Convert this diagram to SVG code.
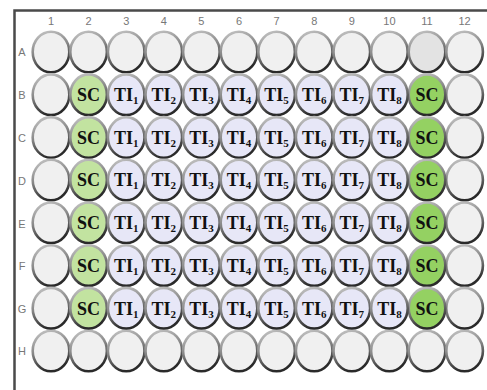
<svg xmlns="http://www.w3.org/2000/svg" width="487" height="390" viewBox="0 0 487 390">
<defs>
<linearGradient id="rim" x1="0" y1="0" x2="0.3" y2="1">
<stop offset="0" stop-color="#c8c8c8"/>
<stop offset="0.5" stop-color="#8a8a8a"/>
<stop offset="1" stop-color="#2a2a2a"/>
</linearGradient>
<ellipse id="w" cx="0" cy="0" rx="18.3" ry="20.3"/>
</defs>
<style>
.e{fill:#f0f0f0}
.t{fill:#e7e7f7}
.s1{fill:#c2e3a0}
.s2{fill:#94d162}
.g{fill:#e3e3e3}
.well use{stroke:url(#rim);stroke-width:2.6}
.hi{fill:none;stroke:#ffffff;stroke-width:1;opacity:0.8}
.lab{font-family:"Liberation Serif",serif;font-weight:bold;font-size:18px;fill:#111;text-anchor:middle}
.sub{font-size:11px}
.num{font-family:"Liberation Sans",sans-serif;font-size:11px;fill:#777;text-anchor:middle}
</style>
<rect width="487" height="390" fill="#ffffff"/>
<g id="frame" fill="none" stroke="#4a4a4a" stroke-width="2.5">
<path d="M14.5 390 V10.5 H487"/>
</g>
<g id="colnums" class="num">
<text x="51" y="25">1</text><text x="88.6" y="25">2</text><text x="126.2" y="25">3</text><text x="163.8" y="25">4</text><text x="201.4" y="25">5</text><text x="239" y="25">6</text><text x="276.6" y="25">7</text><text x="314.2" y="25">8</text><text x="351.8" y="25">9</text><text x="389.4" y="25">10</text><text x="427" y="25">11</text><text x="464.6" y="25">12</text>
</g>
<g id="rownums" class="num">
<text x="22" y="56">A</text><text x="22" y="99">B</text><text x="22" y="142">C</text><text x="22" y="185">D</text><text x="22" y="228">E</text><text x="22" y="270">F</text><text x="22" y="313">G</text><text x="22" y="355">H</text>
</g>
<g id="connectors"/>
<g id="wells" class="well">
<!-- Row A -->
<g id="rowA">
<use href="#w" class="e" x="51" y="52"/><use href="#w" class="e" x="88.6" y="52"/><use href="#w" class="e" x="126.2" y="52"/><use href="#w" class="e" x="163.8" y="52"/><use href="#w" class="e" x="201.4" y="52"/><use href="#w" class="e" x="239" y="52"/><use href="#w" class="e" x="276.6" y="52"/><use href="#w" class="e" x="314.2" y="52"/><use href="#w" class="e" x="351.8" y="52"/><use href="#w" class="e" x="389.4" y="52"/><use href="#w" class="g" x="427" y="52"/><use href="#w" class="e" x="464.6" y="52"/>
</g>
<g id="rowH">
<use href="#w" class="e" x="51" y="351"/><use href="#w" class="e" x="88.6" y="351"/><use href="#w" class="e" x="126.2" y="351"/><use href="#w" class="e" x="163.8" y="351"/><use href="#w" class="e" x="201.4" y="351"/><use href="#w" class="e" x="239" y="351"/><use href="#w" class="e" x="276.6" y="351"/><use href="#w" class="e" x="314.2" y="351"/><use href="#w" class="e" x="351.8" y="351"/><use href="#w" class="e" x="389.4" y="351"/><use href="#w" class="e" x="427" y="351"/><use href="#w" class="e" x="464.6" y="351"/>
</g>
<g id="col1">
<use href="#w" class="e" x="51" y="94.7"/><use href="#w" class="e" x="51" y="137.4"/><use href="#w" class="e" x="51" y="180.1"/><use href="#w" class="e" x="51" y="222.8"/><use href="#w" class="e" x="51" y="265.5"/><use href="#w" class="e" x="51" y="308.2"/>
</g>
<g id="col12">
<use href="#w" class="e" x="464.6" y="94.7"/><use href="#w" class="e" x="464.6" y="137.4"/><use href="#w" class="e" x="464.6" y="180.1"/><use href="#w" class="e" x="464.6" y="222.8"/><use href="#w" class="e" x="464.6" y="265.5"/><use href="#w" class="e" x="464.6" y="308.2"/>
</g>
<g id="col2">
<use href="#w" class="s1" x="88.6" y="94.7"/><use href="#w" class="s1" x="88.6" y="137.4"/><use href="#w" class="s1" x="88.6" y="180.1"/><use href="#w" class="s1" x="88.6" y="222.8"/><use href="#w" class="s1" x="88.6" y="265.5"/><use href="#w" class="s1" x="88.6" y="308.2"/>
</g>
<g id="col11">
<use href="#w" class="s2" x="427" y="94.7"/><use href="#w" class="s2" x="427" y="137.4"/><use href="#w" class="s2" x="427" y="180.1"/><use href="#w" class="s2" x="427" y="222.8"/><use href="#w" class="s2" x="427" y="265.5"/><use href="#w" class="s2" x="427" y="308.2"/>
</g>
<g id="ti">
<use href="#w" class="t" x="126.2" y="94.7"/><use href="#w" class="t" x="163.8" y="94.7"/><use href="#w" class="t" x="201.4" y="94.7"/><use href="#w" class="t" x="239" y="94.7"/><use href="#w" class="t" x="276.6" y="94.7"/><use href="#w" class="t" x="314.2" y="94.7"/><use href="#w" class="t" x="351.8" y="94.7"/><use href="#w" class="t" x="389.4" y="94.7"/>
<use href="#w" class="t" x="126.2" y="137.4"/><use href="#w" class="t" x="163.8" y="137.4"/><use href="#w" class="t" x="201.4" y="137.4"/><use href="#w" class="t" x="239" y="137.4"/><use href="#w" class="t" x="276.6" y="137.4"/><use href="#w" class="t" x="314.2" y="137.4"/><use href="#w" class="t" x="351.8" y="137.4"/><use href="#w" class="t" x="389.4" y="137.4"/>
<use href="#w" class="t" x="126.2" y="180.1"/><use href="#w" class="t" x="163.8" y="180.1"/><use href="#w" class="t" x="201.4" y="180.1"/><use href="#w" class="t" x="239" y="180.1"/><use href="#w" class="t" x="276.6" y="180.1"/><use href="#w" class="t" x="314.2" y="180.1"/><use href="#w" class="t" x="351.8" y="180.1"/><use href="#w" class="t" x="389.4" y="180.1"/>
<use href="#w" class="t" x="126.2" y="222.8"/><use href="#w" class="t" x="163.8" y="222.8"/><use href="#w" class="t" x="201.4" y="222.8"/><use href="#w" class="t" x="239" y="222.8"/><use href="#w" class="t" x="276.6" y="222.8"/><use href="#w" class="t" x="314.2" y="222.8"/><use href="#w" class="t" x="351.8" y="222.8"/><use href="#w" class="t" x="389.4" y="222.8"/>
<use href="#w" class="t" x="126.2" y="265.5"/><use href="#w" class="t" x="163.8" y="265.5"/><use href="#w" class="t" x="201.4" y="265.5"/><use href="#w" class="t" x="239" y="265.5"/><use href="#w" class="t" x="276.6" y="265.5"/><use href="#w" class="t" x="314.2" y="265.5"/><use href="#w" class="t" x="351.8" y="265.5"/><use href="#w" class="t" x="389.4" y="265.5"/>
<use href="#w" class="t" x="126.2" y="308.2"/><use href="#w" class="t" x="163.8" y="308.2"/><use href="#w" class="t" x="201.4" y="308.2"/><use href="#w" class="t" x="239" y="308.2"/><use href="#w" class="t" x="276.6" y="308.2"/><use href="#w" class="t" x="314.2" y="308.2"/><use href="#w" class="t" x="351.8" y="308.2"/><use href="#w" class="t" x="389.4" y="308.2"/>
</g>
</g>
<g id="labels" class="lab">
<g id="sc">
<text x="88.6" y="101">SC</text><text x="88.6" y="143.7">SC</text><text x="88.6" y="186.4">SC</text><text x="88.6" y="229.1">SC</text><text x="88.6" y="271.8">SC</text><text x="88.6" y="314.5">SC</text>
<text x="427" y="101">SC</text><text x="427" y="143.7">SC</text><text x="427" y="186.4">SC</text><text x="427" y="229.1">SC</text><text x="427" y="271.8">SC</text><text x="427" y="314.5">SC</text>
</g>
<g id="tiB">
<text x="126.2" y="101">TI<tspan class="sub" dy="3">1</tspan></text><text x="163.8" y="101">TI<tspan class="sub" dy="3">2</tspan></text><text x="201.4" y="101">TI<tspan class="sub" dy="3">3</tspan></text><text x="239" y="101">TI<tspan class="sub" dy="3">4</tspan></text><text x="276.6" y="101">TI<tspan class="sub" dy="3">5</tspan></text><text x="314.2" y="101">TI<tspan class="sub" dy="3">6</tspan></text><text x="351.8" y="101">TI<tspan class="sub" dy="3">7</tspan></text><text x="389.4" y="101">TI<tspan class="sub" dy="3">8</tspan></text>
</g>
<g id="tiC">
<text x="126.2" y="143.7">TI<tspan class="sub" dy="3">1</tspan></text><text x="163.8" y="143.7">TI<tspan class="sub" dy="3">2</tspan></text><text x="201.4" y="143.7">TI<tspan class="sub" dy="3">3</tspan></text><text x="239" y="143.7">TI<tspan class="sub" dy="3">4</tspan></text><text x="276.6" y="143.7">TI<tspan class="sub" dy="3">5</tspan></text><text x="314.2" y="143.7">TI<tspan class="sub" dy="3">6</tspan></text><text x="351.8" y="143.7">TI<tspan class="sub" dy="3">7</tspan></text><text x="389.4" y="143.7">TI<tspan class="sub" dy="3">8</tspan></text>
</g>
<g id="tiD">
<text x="126.2" y="186.4">TI<tspan class="sub" dy="3">1</tspan></text><text x="163.8" y="186.4">TI<tspan class="sub" dy="3">2</tspan></text><text x="201.4" y="186.4">TI<tspan class="sub" dy="3">3</tspan></text><text x="239" y="186.4">TI<tspan class="sub" dy="3">4</tspan></text><text x="276.6" y="186.4">TI<tspan class="sub" dy="3">5</tspan></text><text x="314.2" y="186.4">TI<tspan class="sub" dy="3">6</tspan></text><text x="351.8" y="186.4">TI<tspan class="sub" dy="3">7</tspan></text><text x="389.4" y="186.4">TI<tspan class="sub" dy="3">8</tspan></text>
</g>
<g id="tiE">
<text x="126.2" y="229.1">TI<tspan class="sub" dy="3">1</tspan></text><text x="163.8" y="229.1">TI<tspan class="sub" dy="3">2</tspan></text><text x="201.4" y="229.1">TI<tspan class="sub" dy="3">3</tspan></text><text x="239" y="229.1">TI<tspan class="sub" dy="3">4</tspan></text><text x="276.6" y="229.1">TI<tspan class="sub" dy="3">5</tspan></text><text x="314.2" y="229.1">TI<tspan class="sub" dy="3">6</tspan></text><text x="351.8" y="229.1">TI<tspan class="sub" dy="3">7</tspan></text><text x="389.4" y="229.1">TI<tspan class="sub" dy="3">8</tspan></text>
</g>
<g id="tiF">
<text x="126.2" y="271.8">TI<tspan class="sub" dy="3">1</tspan></text><text x="163.8" y="271.8">TI<tspan class="sub" dy="3">2</tspan></text><text x="201.4" y="271.8">TI<tspan class="sub" dy="3">3</tspan></text><text x="239" y="271.8">TI<tspan class="sub" dy="3">4</tspan></text><text x="276.6" y="271.8">TI<tspan class="sub" dy="3">5</tspan></text><text x="314.2" y="271.8">TI<tspan class="sub" dy="3">6</tspan></text><text x="351.8" y="271.8">TI<tspan class="sub" dy="3">7</tspan></text><text x="389.4" y="271.8">TI<tspan class="sub" dy="3">8</tspan></text>
</g>
<g id="tiG">
<text x="126.2" y="314.5">TI<tspan class="sub" dy="3">1</tspan></text><text x="163.8" y="314.5">TI<tspan class="sub" dy="3">2</tspan></text><text x="201.4" y="314.5">TI<tspan class="sub" dy="3">3</tspan></text><text x="239" y="314.5">TI<tspan class="sub" dy="3">4</tspan></text><text x="276.6" y="314.5">TI<tspan class="sub" dy="3">5</tspan></text><text x="314.2" y="314.5">TI<tspan class="sub" dy="3">6</tspan></text><text x="351.8" y="314.5">TI<tspan class="sub" dy="3">7</tspan></text><text x="389.4" y="314.5">TI<tspan class="sub" dy="3">8</tspan></text>
</g>
</g>
</svg>
